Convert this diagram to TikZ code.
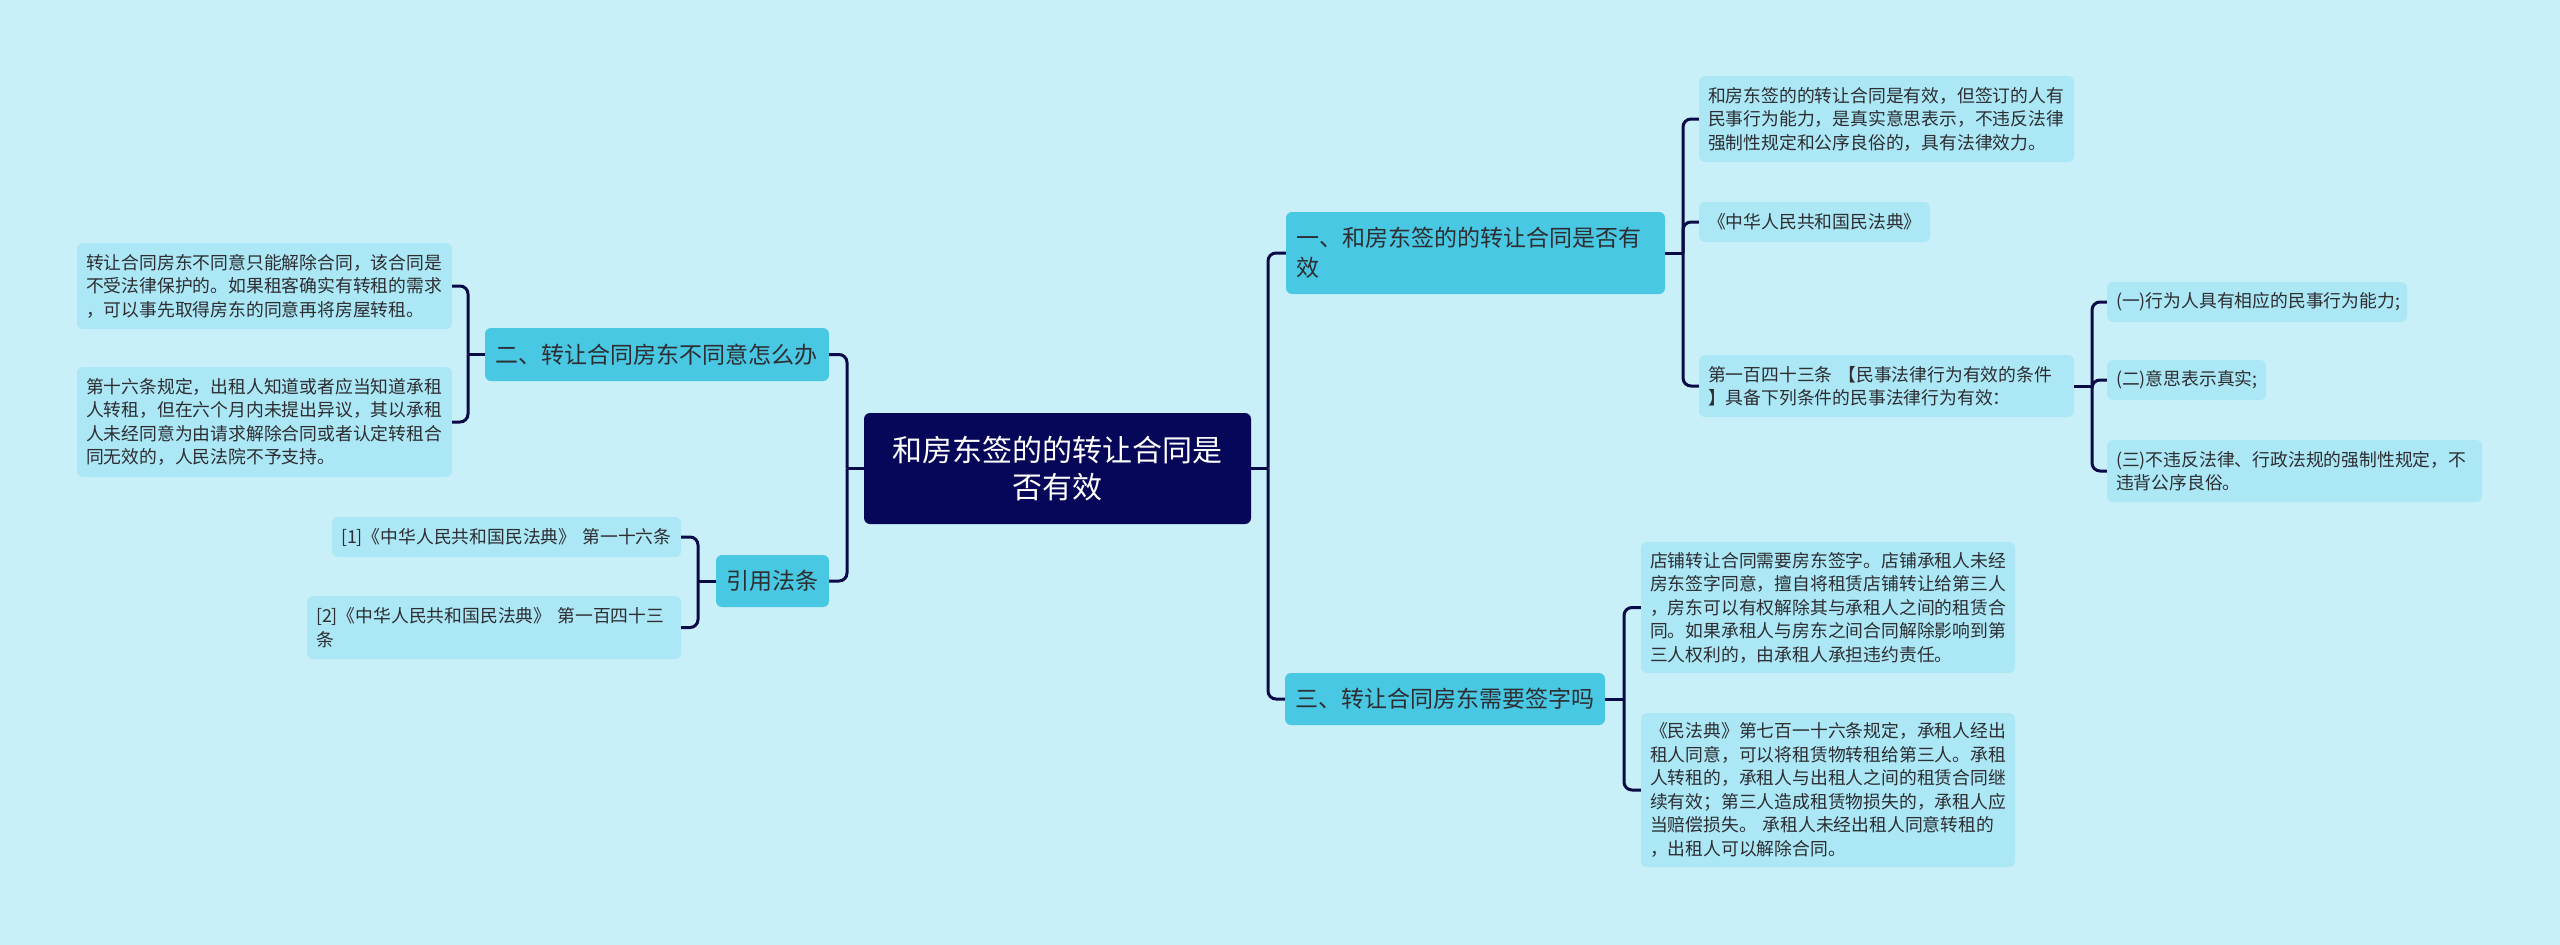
\documentclass[tikz,border=0pt]{standalone}
\usepackage{fontspec}
\setmainfont{Noto Sans CJK SC}
\definecolor{bgc}{RGB}{201,240,248}
\definecolor{topicc}{RGB}{72,200,226}
\definecolor{leafc}{RGB}{171,231,244}
\definecolor{rootc}{RGB}{7,7,90}
\definecolor{linec}{RGB}{10,10,72}
\definecolor{textc}{RGB}{45,45,50}
\tikzset{
    root/.style={fill=rootc,text=white,rounded corners=6pt,inner sep=0pt,
        align=center,font=\fontsize{30}{37}\selectfont},
    topic/.style={fill=topicc,text=textc,rounded corners=6pt,inner xsep=10pt,
        inner ysep=0pt,align=left,font=\fontsize{23}{30}\selectfont},
    leaf/.style={fill=leafc,text=textc,rounded corners=6pt,inner xsep=9pt,
        inner ysep=0pt,align=left,font=\fontsize{17.8}{23.5}\selectfont},
    link/.style={draw=linec,line width=3pt,rounded corners=8pt}
}
\begin{document}
\begin{tikzpicture}[x=1pt,y=-1pt]
    \fill[bgc] (0,0) rectangle (2560,945);
    \useasboundingbox (0,0) rectangle (2560,945);

    \node[root,minimum width=387,minimum height=111] (root) at (1057.5,468.5)
        {和房东签的的转让合同是\\否有效};

    % right side
    \node[topic,text width=359,minimum height=82] (one) at (1475.5,253)
        {一、和房东签的的转让合同是否有\\效};
    \node[topic,text width=300,minimum height=52] (three) at (1445,699)
        {三、转让合同房东需要签字吗};

    \node[leaf,text width=357,minimum height=86] (b1) at (1886.5,119)
        {和房东签的的转让合同是有效，但签订的人有\\民事行为能力，是真实意思表示，不违反法律\\强制性规定和公序良俗的，具有法律效力。};
    \node[leaf,text width=213,minimum height=40] (b2) at (1814.5,222)
        {《中华人民共和国民法典》};
    \node[leaf,text width=357,minimum height=62] (b3) at (1886.5,386)
        {第一百四十三条 【民事法律行为有效的条件\\】具备下列条件的民事法律行为有效：};

    \node[leaf,text width=282,minimum height=40] (c1) at (2257,302)
        {(一)行为人具有相应的民事行为能力;};
    \node[leaf,text width=141,minimum height=40] (c2) at (2186.5,380)
        {(二)意思表示真实;};
    \node[leaf,text width=357,minimum height=62] (c3) at (2294.5,471)
        {(三)不违反法律、行政法规的强制性规定，不\\违背公序良俗。};

    \node[leaf,text width=356,minimum height=131] (d1) at (1828,607.5)
        {店铺转让合同需要房东签字。店铺承租人未经\\房东签字同意，擅自将租赁店铺转让给第三人\\，房东可以有权解除其与承租人之间的租赁合\\同。如果承租人与房东之间合同解除影响到第\\三人权利的，由承租人承担违约责任。};
    \node[leaf,text width=356,minimum height=154] (d2) at (1828,790)
        {《民法典》第七百一十六条规定，承租人经出\\租人同意，可以将租赁物转租给第三人。承租\\人转租的，承租人与出租人之间的租赁合同继\\续有效；第三人造成租赁物损失的，承租人应\\当赔偿损失。 承租人未经出租人同意转租的\\，出租人可以解除合同。};

    % left side
    \node[topic,text width=324,minimum height=53] (two) at (657,354.5)
        {二、转让合同房东不同意怎么办};
    \node[topic,text width=93,minimum height=52] (cite) at (772.5,581)
        {引用法条};

    \node[leaf,text width=357,minimum height=86] (a1) at (264.5,286)
        {转让合同房东不同意只能解除合同，该合同是\\不受法律保护的。如果租客确实有转租的需求\\，可以事先取得房东的同意再将房屋转租。};
    \node[leaf,text width=357,minimum height=110] (a2) at (264.5,422)
        {第十六条规定，出租人知道或者应当知道承租\\人转租，但在六个月内未提出异议，其以承租\\人未经同意为由请求解除合同或者认定转租合\\同无效的，人民法院不予支持。};

    \node[leaf,text width=331,minimum height=40] (r1) at (506.5,537)
        {[1]《中华人民共和国民法典》 第一十六条};
    \node[leaf,text width=356,minimum height=63] (r2) at (494,627.5)
        {[2]《中华人民共和国民法典》 第一百四十三\\条};

    % junctions
    \coordinate (rj) at (1268,468.5);
    \coordinate (lj) at (847,468.5);
    \coordinate (j1) at (1683,253);
    \coordinate (j3) at (1624,699);
    \coordinate (jb) at (2092,386);
    \coordinate (j2) at (468,354.5);
    \coordinate (jc) at (698,581);

    \draw[link] (root.east) -- (rj);
    \draw[link] (root.west) -- (lj);
    \draw[link] (one.west) -| (rj);
    \draw[link] (three.west) -| (rj);
    \draw[link] (two.east) -| (lj);
    \draw[link] (cite.east) -| (lj);

    \draw[link] (one.east) -- (j1);
    \draw[link] (b1.west) -| (j1);
    \draw[link] (b2.west) -| (j1);
    \draw[link] (b3.west) -| (j1);

    \draw[link] (b3.east) -- (jb);
    \draw[link] (c1.west) -| (jb);
    \draw[link] (c2.west) -| (jb);
    \draw[link] (c3.west) -| (jb);

    \draw[link] (three.east) -- (j3);
    \draw[link] (d1.west) -| (j3);
    \draw[link] (d2.west) -| (j3);

    \draw[link] (two.west) -- (j2);
    \draw[link] (a1.east) -| (j2);
    \draw[link] (a2.east) -| (j2);

    \draw[link] (cite.west) -- (jc);
    \draw[link] (r1.east) -| (jc);
    \draw[link] (r2.east) -| (jc);
\end{tikzpicture}
\end{document}
